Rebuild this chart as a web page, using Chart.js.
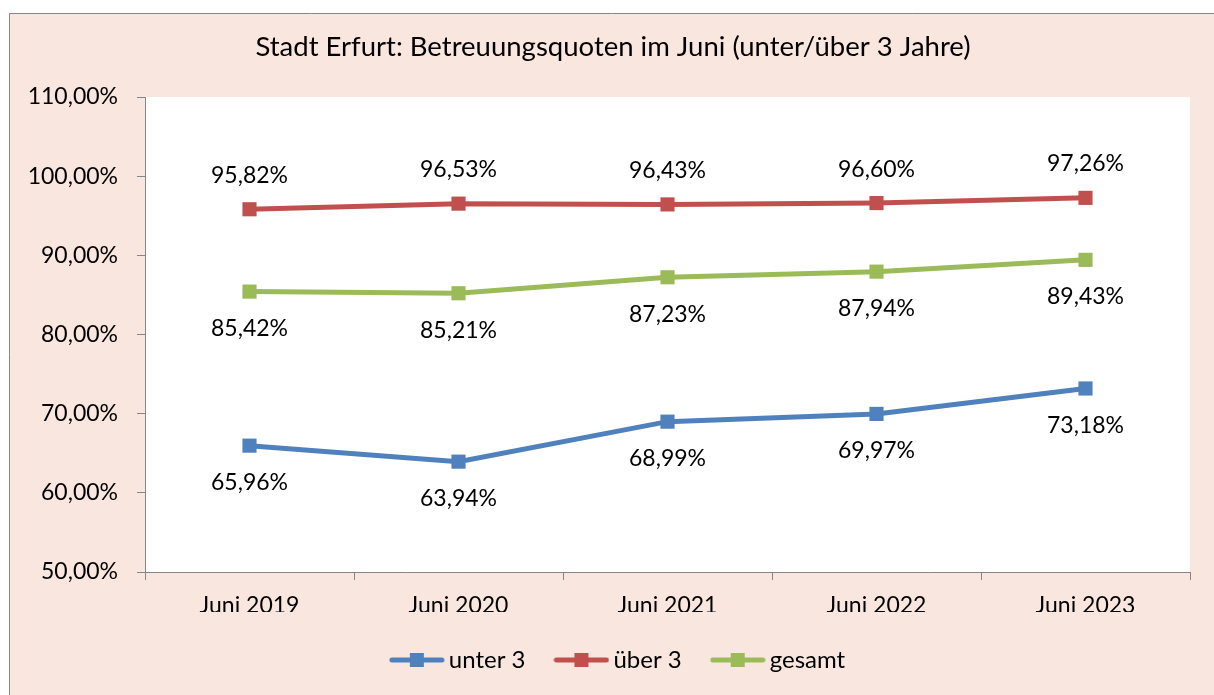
<!DOCTYPE html>
<html>
<head>
<meta charset="utf-8">
<script src="https://cdn.jsdelivr.net/npm/chart.js@4.4.1/dist/chart.umd.min.js"></script>
<style>
  body { margin: 0; background: #fff; }
  #wrap { width: 1214px; height: 695px; }
</style>
</head>
<body>
<div id="wrap"><canvas id="quoten" width="1214" height="695"></canvas></div>
<script>
var jahre = ["Juni 2019", "Juni 2020", "Juni 2021", "Juni 2022", "Juni 2023"];
var unter3 = [65.96, 63.94, 68.99, 69.97, 73.18];
var ueber3 = [95.82, 96.53, 96.43, 96.60, 97.26];
var gesamt = [85.42, 85.21, 87.23, 87.94, 89.43];
var yTicks = [50, 60, 70, 80, 90, 100, 110];

var blau = "#4F81BD", rot = "#C0504D", gruen = "#9BBB59";
var schrift = "Lato";
var peach = "#F9E6DF";

function prozent(v) {
  return v.toFixed(2).replace(".", ",") + "%";
}

// little line-with-square symbol for the legend
function legendSymbol(farbe) {
  var c = document.createElement("canvas");
  c.width = 56;
  c.height = 16;
  var g = c.getContext("2d");
  g.strokeStyle = farbe;
  g.lineWidth = 5;
  g.lineCap = "round";
  g.beginPath();
  g.moveTo(3, 8);
  g.lineTo(53, 8);
  g.stroke();
  g.fillStyle = farbe;
  g.fillRect(21, 1, 14, 14);
  return c;
}

var hintergrund = {
  id: "hintergrund",
  beforeDraw: function (chart) {
    var ctx = chart.ctx;
    var a = chart.chartArea;
    ctx.save();
    ctx.fillStyle = "#fff";
    ctx.fillRect(0, 0, chart.width, chart.height);
    ctx.fillStyle = peach;
    ctx.fillRect(9.5, 13.5, chart.width, chart.height);
    ctx.strokeStyle = "#868686";
    ctx.lineWidth = 1;
    ctx.beginPath();
    ctx.moveTo(9.5, chart.height);
    ctx.lineTo(9.5, 13.5);
    ctx.lineTo(chart.width, 13.5);
    ctx.stroke();
    ctx.fillStyle = "#fff";
    ctx.fillRect(a.left, a.top, a.right - a.left, a.bottom - a.top);
    ctx.restore();
  }
};

// centre title and legend over the whole frame, not just the padded box
var versatz = {
  id: "versatz",
  afterLayout: function (chart) {
    if (chart.legend) {
      chart.legend.left += 26;
      chart.legend.right += 26;
    }
    if (chart.titleBlock) {
      chart.titleBlock.left += 18;
      chart.titleBlock.right += 18;
    }
  }
};

// value labels: über 3 above its points, the other two below
var wertLabels = {
  id: "wertLabels",
  afterDatasetsDraw: function (chart) {
    var ctx = chart.ctx;
    ctx.save();
    ctx.font = "23px " + schrift;
    ctx.fillStyle = "#000";
    ctx.textAlign = "center";
    ctx.textBaseline = "middle";
    chart.data.datasets.forEach(function (ds, i) {
      var meta = chart.getDatasetMeta(i);
      var dy = ds.label === "über 3" ? -34 : 37;
      meta.data.forEach(function (pt, j) {
        ctx.fillText(prozent(ds.data[j]), pt.x, pt.y + dy);
      });
    });
    ctx.restore();
  }
};

function serie(label, werte, farbe) {
  return {
    label: label,
    data: werte,
    borderColor: farbe,
    backgroundColor: farbe,
    borderWidth: 5,
    pointStyle: "rect",
    pointRadius: 10,
    pointBorderWidth: 0,
    pointHoverRadius: 10,
    tension: 0
  };
}

var ctx = document.getElementById("quoten").getContext("2d");
var myChart = new Chart(ctx, {
  type: "line",
  data: {
    labels: jahre,
    datasets: [
      serie("unter 3", unter3, blau),
      serie("über 3", ueber3, rot),
      serie("gesamt", gesamt, gruen)
    ]
  },
  options: {
    responsive: false,
    animation: false,
    layout: { padding: { left: 0, right: 24, top: 0, bottom: 13 } },
    plugins: {
      title: {
        display: true,
        text: "Stadt Erfurt: Betreuungsquoten im Juni (unter/über 3 Jahre)",
        color: "#000",
        font: { family: schrift, size: 27.5, weight: "normal" },
        padding: { top: 30.5, bottom: 33.5 }
      },
      legend: {
        position: "bottom",
        labels: {
          usePointStyle: true,
          pointStyleWidth: 40,
          padding: 36,
          color: "#000",
          font: { family: schrift, size: 24 },
          generateLabels: function (chart) {
            var items = Chart.defaults.plugins.legend.labels.generateLabels(chart);
            items.forEach(function (it) {
              it.pointStyle = legendSymbol(chart.data.datasets[it.datasetIndex].borderColor);
            });
            return items;
          }
        }
      },
      tooltip: { enabled: false }
    },
    scales: {
      x: {
        offset: true,
        afterFit: function (scale) { scale.height = 40; },
        grid: {
          offset: true,
          drawOnChartArea: false,
          tickLength: 8,
          color: "#868686"
        },
        border: { color: "#868686" },
        ticks: {
          color: "#000",
          padding: 12,
          maxRotation: 0,
          font: { family: schrift, size: 23 }
        }
      },
      y: {
        min: 50,
        max: 110,
        afterFit: function (scale) { scale.width = 145; },
        afterBuildTicks: function (scale) {
          scale.ticks = yTicks.map(function (v) { return { value: v }; });
        },
        grid: {
          drawOnChartArea: false,
          tickLength: 8,
          color: "#868686"
        },
        border: { color: "#868686" },
        ticks: {
          color: "#000",
          padding: 19,
          font: { family: schrift, size: 23 },
          callback: function (v) { return prozent(v); }
        }
      }
    }
  },
  plugins: [hintergrund, versatz, wertLabels]
});
</script>
</body>
</html>
